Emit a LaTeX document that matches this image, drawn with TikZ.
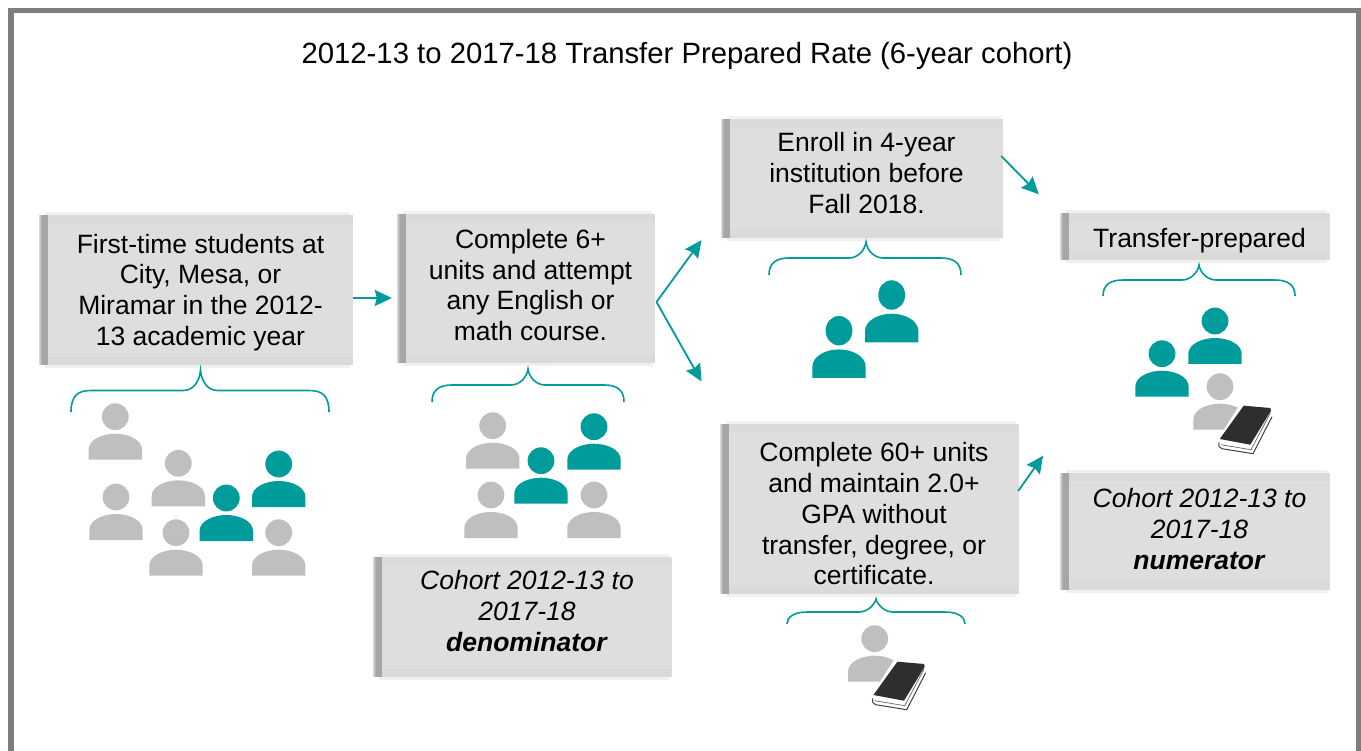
\documentclass[tikz,border=0pt]{standalone}
\usepackage{fontspec}
\setmainfont{Liberation Sans}
\usetikzlibrary{shadows,arrows.meta}
\definecolor{teal1}{HTML}{009B9B}
\definecolor{pgray}{HTML}{BFBFBF}
\definecolor{boxg}{HTML}{DEDEDE}
\definecolor{bandg}{HTML}{DADADA}
\definecolor{frameg}{HTML}{7F7F7F}
\newcommand{\tb}[3]{\setbox0\hbox{\begin{tabular}{@{}c@{}}#3\end{tabular}}\dp0=\dimexpr\dp0+#1pt\relax\ht0=\dimexpr\ht0+#2pt\relax\box0 }
\tikzset{
 x=1pt,y=-1pt,
 boxx/.style={minimum width=#1,inner sep=0pt,fill=boxg,font=\fontsize{26.5}{30.7}\selectfont,
  general shadow={shadow xshift=-3pt,shadow yshift=3pt,fill=black!6},
  general shadow={shadow xshift=-3pt,shadow yshift=-3pt,fill=black!6},
  general shadow={shadow xshift=-9.5pt,shadow yshift=0pt,fill=black!6},
  general shadow={shadow xshift=-8.7pt,shadow yshift=0pt,fill=black!14},
  general shadow={shadow xshift=-8pt,shadow yshift=0pt,fill=black!22},
  general shadow={shadow xshift=-7pt,shadow yshift=0pt,fill=black!30},
  general shadow={shadow xshift=-6pt,shadow yshift=0pt,fill=black!35},
  path picture={\fill[bandg] (path picture bounding box.north west) rectangle ([yshift=-8pt]path picture bounding box.north east);
   \fill[bandg] (path picture bounding box.south west) rectangle ([yshift=8pt]path picture bounding box.south east);}},
 conn/.style={draw=teal1,line width=1.8pt,-{Stealth[length=17pt,width=16pt,inset=2pt]}},
 brc/.style={draw=teal1,line width=1.6pt},
 person/.pic={
  \fill[pic actions] (0,0) circle (13.4);
  \fill[pic actions] (-26.7,43) -- (-26.7,33) .. controls (-26.7,23) and (-13,17) .. (0,17) .. controls (13,17) and (26.7,23) .. (26.7,33) -- (26.7,43) -- cycle;
 },
 book/.pic={
  \fill[white] (20,20) -- (52,24) -- (52,36) -- (33,72) -- (-2,66) -- (-4,58) -- cycle;
  \draw[line width=1pt,black!75] (-2,59.7) .. controls (-3,64) and (-1,65) .. (1,66) -- (32,71) -- (51,34);
  \draw[line width=.7pt,black!60] (0,62) -- (30,67) -- (49.5,30);
  \fill[black!82] (22.7,23) -- (49.3,25.3) -- (50,28) -- (29.3,62) -- (-1.3,56.3) -- cycle;
 }
}
\newcommand{\bracket}[6]{\draw[brc] (#1,#6) .. controls (#1,#5+5) and (#1+7,#5) .. (#1+20,#5) -- (#3-17,#5) .. controls (#3-8,#5) and (#3-1,#5-8) .. (#3,#4) .. controls (#3+1,#5-8) and (#3+8,#5) .. (#3+17,#5) -- (#2-20,#5) .. controls (#2-7,#5) and (#2,#5+5) .. (#2,#6);}
\newcommand{\gp}[2]{\pic[fill=pgray] at (#1,#2) {person};}
\newcommand{\tp}[2]{\pic[fill=teal1] at (#1,#2) {person};}
\begin{document}
\begin{tikzpicture}
\useasboundingbox (0,0) rectangle (1361,751);
\fill[white] (0,0) rectangle (1361,751);
\draw[frameg,line width=5.6pt] (11,10.7) rectangle (1358.5,770);
\node[font=\fontsize{29.3}{34}\selectfont] (title) at (687,56) {2012-13 to 2017-18 Transfer Prepared Rate (6-year cohort)};
\node[boxx=305pt,minimum height=150pt] (b1) at (200.5,290) {\tb{0}{6}{First-time students at\\City, Mesa, or\\Miramar in the 2012-\\13 academic year}};
\node[boxx=249pt,minimum height=149pt] (b2) at (530.5,288.5) {\tb{0.5}{0}{Complete 6+\\units and attempt\\any English or\\math course.}};
\node[boxx=273pt,minimum height=119pt] (b3) at (866.5,178.5) {\tb{4}{0}{Enroll in 4-year\\institution before\\Fall 2018.}};
\node[boxx=261pt,minimum height=47pt] (b4) at (1199.5,236.5) {\tb{0}{10}{Transfer-prepared}};
\node[boxx=290pt,minimum height=120pt] (b5) at (527,617) {\tb{5.5}{0}{\textit{Cohort 2012-13 to}\\\textit{2017-18}\\\textbf{\textit{denominator}}}};
\node[boxx=290pt,minimum height=168pt] (b6) at (874,509) {\tb{0}{16.5}{Complete 60+ units\\and maintain 2.0+\\GPA without\\transfer, degree, or\\certificate.}};
\node[boxx=261pt,minimum height=117pt] (b7) at (1199.5,531.5) {\tb{0}{2}{\textit{Cohort 2012-13 to}\\\textit{2017-18}\\\textbf{\textit{numerator}}}};
\draw[conn] ([yshift=-8pt]b1.east) -- ([xshift=-14pt,yshift=-9.5pt]b2.west);
\draw[conn] ([xshift=1.3pt,yshift=-13.5pt]b2.east) -- ([xshift=-28.3pt,yshift=-2pt]b3.south west);
\draw[conn] ([xshift=1.3pt,yshift=-13.5pt]b2.east) -- ([xshift=-27.3pt,yshift=42.3pt]b6.north west);
\draw[conn] ([xshift=-2pt,yshift=22.5pt]b3.east) -- ([xshift=-30pt,yshift=42.2pt]b4.west);
\draw[conn] ([xshift=-1pt,yshift=18pt]b6.east) -- ([xshift=-25.7pt,yshift=75.8pt]b7.west);
\bracket{71}{329}{200.5}{370}{390.5}{412}
\bracket{432}{624}{528}{369}{385}{402}
\bracket{769}{961}{866}{242}{258}{275}
\bracket{1103}{1295}{1199}{265}{280}{296}
\bracket{787}{965}{876}{599}{612}{624}
\gp{115.3}{416.7}\gp{116}{497}\gp{178.3}{463.3}\gp{176}{532.7}\gp{278.7}{532.7}
\tp{278.7}{464}\tp{226.3}{498}
\gp{492.7}{425.7}\gp{491}{495}\gp{594}{495}\tp{594}{426.7}\tp{541}{460.7}
\pic[fill=teal1,yscale=1.1] at (891.7,295) {person};
\pic[fill=teal1,yscale=1.1] at (839,330.7) {person};
\tp{1215}{321}\tp{1162}{353.7}\gp{1220}{386.7}
\pic at (1221,382.7) {book};
\gp{874.7}{638.7}
\pic at (874.7,638.7) {book};
\end{tikzpicture}
\end{document}
